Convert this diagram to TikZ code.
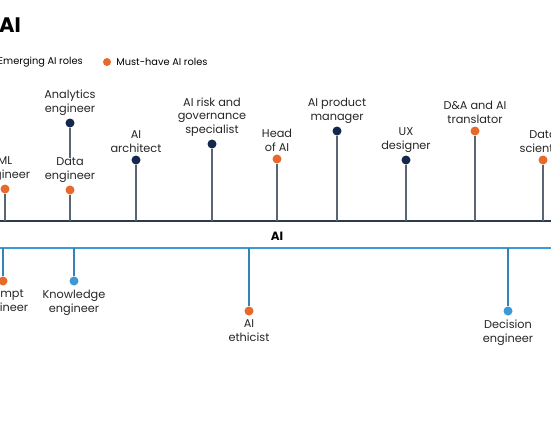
\documentclass[tikz,border=0pt]{standalone}
\usepackage{fontspec}
\setmainfont{Poppins}
\usetikzlibrary{positioning}
\definecolor{navy}{HTML}{14284B}
\definecolor{must}{HTML}{E8692C}
\definecolor{sky}{HTML}{3B9AD6}
\definecolor{slate}{HTML}{5A6472}
\definecolor{ink}{HTML}{2E3A4C}
\tikzset{
  dot/.style={circle,minimum size=9pt,inner sep=0pt},
  role/.style={align=center,inner sep=0pt,font=\fontsize{11.3}{13.8}\selectfont,text=black!85},
  stem/.style={slate,line width=1.3pt},
  lowstem/.style={sky!85!black,line width=1.3pt}
}
\begin{document}
\begin{tikzpicture}[x=1pt,y=-1pt]
  \useasboundingbox (0,0) rectangle (551,431);
  \clip (0,0) rectangle (551,431);
  % title and legend
  \node[anchor=west,inner sep=0pt,font=\bfseries\fontsize{21}{24}\selectfont] (title) at (-1,25) {AI};
  \node[anchor=west,inner sep=0pt,font=\fontsize{9.8}{12}\selectfont] (emerg) at (-2,62) {Emerging AI roles};
  \node[dot,fill=must,minimum size=8pt] (mustkey) at (107,62) {};
  \node[anchor=west,inner sep=0pt,font=\fontsize{9.8}{12}\selectfont,right=5pt of mustkey] (mustlbl) {Must-have AI roles};
  % the two lines
  \coordinate (tl) at (0,221);
  \coordinate (tr) at (551,221);
  \coordinate (bl) at (0,248);
  \coordinate (br) at (551,248);
  \draw[ink,line width=1.6pt] (tl) -- (tr);
  \draw[sky,line width=1.6pt] (bl) -- (br);
  \node[font=\bfseries\fontsize{12}{14}\selectfont,inner sep=0pt] (mid) at (277,236) {AI};
  % roles above the line
  \foreach \x/\y/\c/\t [count=\i] in {
      5/189/must/{ML\\engineer},
      70/190/must/{Data\\engineer},
      136/160/navy/{AI\\architect},
      212/144/navy/{AI risk and\\governance\\specialist},
      277/159/must/{Head\\of AI},
      337/131/navy/{AI product\\manager},
      406/160/navy/{UX\\designer},
      475/131/must/{D\&A and AI\\translator},
      543/160/must/{Data\\scientist}}
  {
    \node[dot,fill=\c] (up\i) at (\x,\y) {};
    \node[role,above=2.5pt of up\i] (uplbl\i) {\t};
    \draw[stem] (up\i) -- (up\i |- tl);
  }
  \node[dot,fill=navy] (analytics) at (70,123) {};
  \node[role,above=2.5pt of analytics] (analyticslbl) {Analytics\\engineer};
  \draw[stem] (analytics) -- (uplbl2);
  % roles below the line
  \foreach \x/\y/\c/\t [count=\i] in {
      3/281/must/{Prompt\\engineer},
      74/281/sky/{Knowledge\\engineer},
      249/311/must/{AI\\ethicist},
      508/311/sky/{Decision\\engineer}}
  {
    \node[dot,fill=\c] (lo\i) at (\x,\y) {};
    \node[role,below=4pt of lo\i] (lolbl\i) {\t};
    \draw[lowstem] (lo\i) -- (lo\i |- bl);
  }
\end{tikzpicture}
\end{document}
